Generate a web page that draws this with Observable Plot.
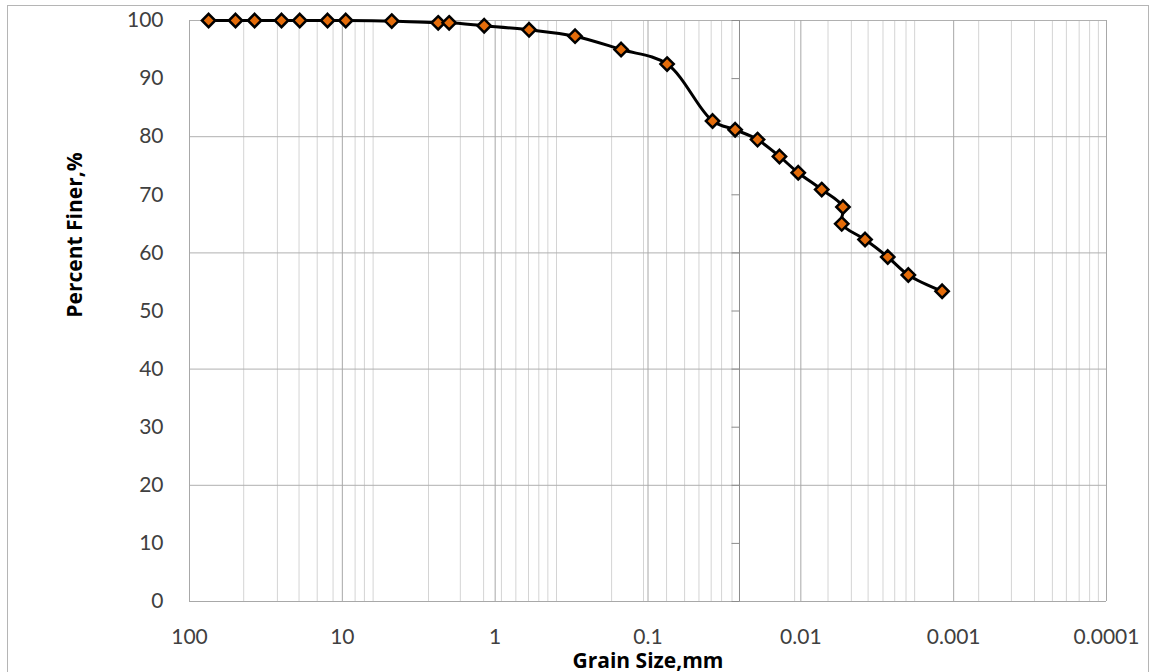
<!DOCTYPE html>
<html>
<head>
<meta charset="utf-8">
<script src="https://cdn.jsdelivr.net/npm/d3@7"></script>
<script src="https://cdn.jsdelivr.net/npm/@observablehq/plot@0.6"></script>
<style>
  html, body { margin: 0; padding: 0; background: #fff; }
  #wrap { position: relative; width: 1156px; height: 672px; overflow: hidden; }
  #border { position: absolute; left: 7px; top: 5px; width: 1142px; height: 700px; border: 1px solid #b5b5b5; box-sizing: border-box; pointer-events: none; }
  #chart { position: absolute; left: 0; top: 0; }
</style>
</head>
<body>
<div id="wrap"><div id="border"></div><div id="chart"></div></div>
<script>
// Grain size (mm) and percent finer
const grainSize = [75, 50, 37.5, 25, 19, 12.5, 9.5, 4.75, 2.36, 2.0, 1.18, 0.6, 0.3, 0.15, 0.075,
  0.0378, 0.0269, 0.0192, 0.0138, 0.0104, 0.0073, 0.0053, 0.0054, 0.0038, 0.0027, 0.00198, 0.00119];
const percentFiner = [100, 100, 100, 100, 100, 100, 100, 99.9, 99.6, 99.6, 99.1, 98.4, 97.3, 95.0, 92.5,
  82.7, 81.2, 79.5, 76.6, 73.8, 70.9, 67.9, 65.0, 62.3, 59.3, 56.2, 53.4];

// Axis ticks
const xTicks = [100, 10, 1, 0.1, 0.01, 0.001, 0.0001];
const yTicks = [0, 10, 20, 30, 40, 50, 60, 70, 80, 90, 100];
const yGrid = [20, 40, 60, 80, 100];
// Minor vertical gridlines as drawn in the original
const xMinorGrid = [44.2, 26.6, 19.2, 14.6, 11.5, 8.25, 7.17, 6.29, 2.73, 1.69, 1.19,
  0.910, 0.732, 0.605, 0.518, 0.452, 0.397, 0.173, 0.107,
  0.0756, 0.0576, 0.0464, 0.0386, 0.0330, 0.0282, 0.01098,
  0.00664, 0.00467, 0.00363, 0.00290, 0.00243, 0.00205, 0.00180,
  0.000686, 0.000419, 0.000296, 0.000226, 0.000183, 0.000151, 0.000129, 0.000113];
// Vertical axis crosses the x axis here
const yAxisCross = 0.0252;

const xLabel = "Grain Size,mm";
const yLabel = "Percent Finer,%";

const data = grainSize.map((g, i) => ({size: g, finer: percentFiner[i]}));

const tickSymbol = { draw(ctx) { ctx.moveTo(-8, 0); ctx.lineTo(0, 0); } };
const titleFont = "'Open Sans', Lato, sans-serif";

const chart = Plot.plot({
  width: 1156,
  height: 672,
  marginLeft: 189,
  marginRight: 50,
  marginTop: 20,
  marginBottom: 71,
  style: { fontFamily: "Lato, 'Open Sans', sans-serif", fontSize: "21px", color: "#404040", background: "transparent" },
  x: { type: "log", domain: [100, 0.0001], ticks: xTicks, tickFormat: d => String(d), tickSize: 0, tickPadding: 28, label: null },
  y: { domain: [0, 100], ticks: yTicks, tickSize: 0, tickPadding: 26, label: null },
  marks: [
    Plot.ruleX(xMinorGrid, { stroke: "#d4d4d4", strokeWidth: 1 }),
    Plot.ruleY(yGrid, { stroke: "#b0b0b0", strokeWidth: 1 }),
    Plot.ruleX(xTicks, { stroke: "#a8a8a8", strokeWidth: 1 }),
    Plot.ruleY([0], { stroke: "#a8a8a8", strokeWidth: 1 }),
    Plot.ruleX([yAxisCross], { stroke: "#8c8c8c", strokeWidth: 1 }),
    Plot.dot(yTicks, { x: () => yAxisCross, y: d => d, symbol: tickSymbol, fill: "none", stroke: "#8c8c8c", strokeWidth: 1 }),
    Plot.line(data, { x: "size", y: "finer", curve: "catmull-rom", stroke: "black", strokeWidth: 3 }),
    Plot.dot(data, { x: "size", y: "finer", symbol: "diamond2", r: 6, fill: "#E46C0A", stroke: "black", strokeWidth: 2.5 }),
    Plot.text([xLabel], { frameAnchor: "bottom", dy: 66, fontWeight: "bold", fontSize: 21, fontFamily: titleFont, fill: "black" }),
    Plot.text([yLabel], { frameAnchor: "left", textAnchor: "middle", rotate: -90, dx: -114, dy: -76, fontWeight: "bold", fontSize: 21, fontFamily: titleFont, fill: "black" })
  ]
});
document.getElementById("chart").appendChild(chart);
</script>
</body>
</html>
